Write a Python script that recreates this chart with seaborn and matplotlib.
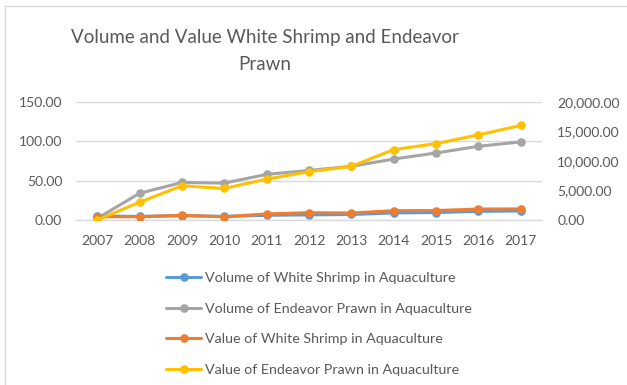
import matplotlib
matplotlib.use("Agg")
import matplotlib.pyplot as plt
from matplotlib.lines import Line2D
import seaborn as sns
import pandas as pd

years = ["2007", "2008", "2009", "2010", "2011", "2012",
         "2013", "2014", "2015", "2016", "2017"]
vol_white_shrimp = [5.0, 4.5, 5.5, 4.5, 6.0, 6.5, 7.0, 9.0, 9.5, 11.0, 11.5]
vol_endeavor_prawn = [2.0, 34.0, 47.7, 46.9, 58.0, 63.0, 68.2, 77.5, 85.2, 93.7, 99.3]
val_white_shrimp = [560, 560, 790, 560, 1020, 1240, 1180, 1580, 1600, 1860, 1880]
val_endeavor_prawn = [0, 3010, 5800, 5340, 6930, 8180, 9090, 11930, 12950, 14430, 16020]

labels = ["Volume of White Shrimp in Aquaculture",
          "Volume of Endeavor Prawn in Aquaculture",
          "Value of White Shrimp in Aquaculture",
          "Value of Endeavor Prawn in Aquaculture"]
colors = ["#5B9BD5", "#A5A5A5", "#ED7D31", "#FFC000"]
left_ticks = [0, 50, 100, 150]
right_ticks = [0, 5000, 10000, 15000, 20000]

sns.set_theme(style="white")
plt.rcParams["font.family"] = ["Lato", "DejaVu Sans"]
text_color = "#595959"

W, H = 627, 385
fig = plt.figure(figsize=(W / 100, H / 100), dpi=100)
ax = fig.add_axes([76 / W, 1 - 220 / H, (542 - 76) / W, (220 - 102) / H])
ax2 = ax.twinx()

pos = list(range(len(years)))
df = pd.DataFrame({"pos": pos, "vws": vol_white_shrimp, "vep": vol_endeavor_prawn,
                   "valws": val_white_shrimp, "valep": val_endeavor_prawn})

style = dict(marker="o", markersize=6.2, linewidth=2.2, markeredgewidth=0)
sns.lineplot(data=df, x="pos", y="vws", ax=ax, color=colors[0], **style)
sns.lineplot(data=df, x="pos", y="vep", ax=ax, color=colors[1], **style)
sns.lineplot(data=df, x="pos", y="valws", ax=ax2, color=colors[2], **style)
sns.lineplot(data=df, x="pos", y="valep", ax=ax2, color=colors[3], **style)

ax.set_xlim(-0.5, len(years) - 0.5)
ax.set_ylim(0, 150)
ax2.set_ylim(0, 20000)
ax.set_xticks(pos)
ax.set_xticklabels(years)
ax.set_yticks(left_ticks)
ax.set_yticklabels([f"{v:,.2f}" for v in left_ticks])
ax2.set_yticks(right_ticks)
ax2.set_yticklabels([f"{v:,.2f}" for v in right_ticks])
ax.set_xlabel("")
ax.set_ylabel("")
ax2.set_ylabel("")

for a in (ax, ax2):
    for s in a.spines.values():
        s.set_visible(False)
ax.spines["bottom"].set_visible(True)
ax.spines["bottom"].set_color("#D9D9D9")
ax.spines["bottom"].set_linewidth(1.0)
ax.yaxis.grid(True, color="#D9D9D9", linewidth=1.0)
ax.set_axisbelow(True)

ax.tick_params(axis="x", length=0, pad=11, labelsize=10, labelcolor=text_color)
ax.tick_params(axis="y", length=0, pad=10, labelsize=10, labelcolor=text_color)
ax2.tick_params(axis="y", length=0, pad=11, labelsize=10, labelcolor=text_color)

fig.text(265 / W, 1 - 37 / H, "Volume and Value White Shrimp and Endeavor",
         ha="center", va="center", fontsize=13.5, color=text_color)
fig.text(265 / W, 1 - 65 / H, "Prawn",
         ha="center", va="center", fontsize=13.5, color=text_color)

handles = [Line2D([0], [0], color=c, linewidth=2.2, marker="o", markersize=6.2,
                  markeredgewidth=0) for c in colors]
fig.legend(handles, labels, loc="upper left",
           bbox_to_anchor=(166 / W, 1 - 272 / H), frameon=False,
           fontsize=10.3, labelcolor=text_color, handlelength=2.45,
           handletextpad=0.25, labelspacing=1.3, borderaxespad=0, borderpad=0)

# chart area border
frame_kw = dict(color="#D9D9D9", linewidth=1.0, transform=fig.transFigure)
fig.add_artist(Line2D([5 / W, 5 / W], [0, 1 - 6 / H], **frame_kw))
fig.add_artist(Line2D([5 / W, 1], [1 - 6 / H, 1 - 6 / H], **frame_kw))

fig.savefig("out.png", dpi=100)
